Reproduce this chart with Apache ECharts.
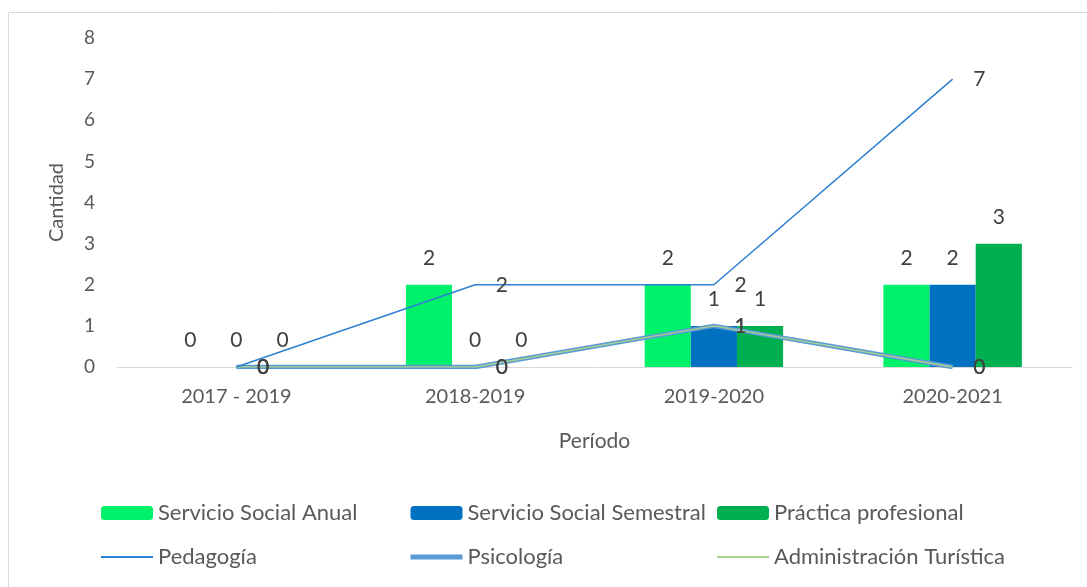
<html>
<head>
  <meta charset="utf-8" />
  <title>Cantidad por período</title>
  <script src="https://cdn.jsdelivr.net/npm/echarts@6/dist/echarts.min.js"></script>
</head>
<body style="margin: 0; background-color: #ffffff">
  <div id="main" style="width: 1087px; height: 587px;"></div>
  <script type="text/javascript">
    var periodos = ['2017 - 2019', '2018-2019', '2019-2020', '2020-2021'];
    var servicioAnual = [0, 2, 2, 2];
    var servicioSemestral = [0, 0, 1, 2];
    var practicaProfesional = [0, 0, 1, 3];
    var pedagogia = [0, 2, 2, 7];
    var psicologia = [0, 0, 1, 0];
    var adminTuristica = [0, 0, 1, 0];
    var yTicks = [0, 1, 2, 3, 4, 5, 6, 7, 8];

    var fontFam = 'Lato, "Open Sans", sans-serif';
    var textGray = '#595959';

    function barLabel() {
        return {show: true, position: 'top', distance: 16, color: '#404040', fontSize: 21, fontFamily: fontFam};
    }
    function lineLabel() {
        return {show: true, position: 'right', distance: 20, color: '#404040', fontSize: 21, fontFamily: fontFam};
    }

    function barSeries(name, data, color) {
        return {name: name, type: 'bar', data: data, barGap: '0%', barCategoryGap: '42%',
                itemStyle: {color: color}, label: barLabel(), z: 2};
    }
    function lineSeries(name, data, color, width, z) {
        // transparent symbols so that the point labels are still drawn
        return {name: name, type: 'line', data: data, symbol: 'circle', symbolSize: 1, showSymbol: true,
                lineStyle: {color: color, width: width}, itemStyle: {color: 'rgba(0,0,0,0)', borderWidth: 0},
                label: lineLabel(), labelLayout: {hideOverlap: false}, z: z};
    }

    function legendCol(left, items) {
        return {orient: 'vertical', left: left, top: 497, itemWidth: 52, itemHeight: 14, itemGap: 22,
                data: items, textStyle: {color: textGray, fontSize: 22, fontFamily: fontFam}};
    }

    var myChart = echarts.init(document.getElementById('main'));
    var option = {
        animation: false,
        backgroundColor: '#ffffff',
        graphic: [{type: 'rect', left: 6, top: 10, shape: {width: 1100, height: 600},
                   style: {fill: 'none', stroke: '#d9d9d9', lineWidth: 1}, silent: true}],
        grid: {left: 117, right: 15, top: 38, bottom: 220},
        legend: [
            legendCol(95, ['Servicio Social Anual', {name: 'Pedagogía', lineStyle: {width: 2}}]),
            legendCol(403, ['Servicio Social Semestral', {name: 'Psicología', lineStyle: {width: 5}}]),
            legendCol(711, ['Práctica profesional', {name: 'Administración Turística', lineStyle: {width: 2}}])
        ],
        xAxis: {
            type: 'category', data: periodos,
            name: 'Período', nameLocation: 'middle', nameGap: 64,
            nameTextStyle: {color: textGray, fontSize: 21, fontFamily: fontFam},
            axisTick: {show: false},
            axisLine: {lineStyle: {color: '#d9d9d9', width: 1}},
            axisLabel: {color: textGray, fontSize: 20, fontFamily: fontFam, margin: 20}
        },
        yAxis: {
            type: 'value', min: yTicks[0], max: yTicks[yTicks.length - 1], interval: 1,
            name: 'Cantidad', nameLocation: 'middle', nameGap: 50,
            nameTextStyle: {color: textGray, fontSize: 20, fontFamily: fontFam},
            splitLine: {show: false},
            axisLine: {show: false}, axisTick: {show: false},
            axisLabel: {color: textGray, fontSize: 19, fontFamily: fontFam, margin: 22}
        },
        series: [
            barSeries('Servicio Social Anual', servicioAnual, '#00F26A'),
            barSeries('Servicio Social Semestral', servicioSemestral, '#0070C0'),
            barSeries('Práctica profesional', practicaProfesional, '#00B050'),
            lineSeries('Pedagogía', pedagogia, '#2E80D2', 1.5, 5),
            lineSeries('Psicología', psicologia, '#5B9BD5', 4.5, 3),
            lineSeries('Administración Turística', adminTuristica, '#A9D18E', 1.5, 4)
        ]
    };
    myChart.setOption(option);
  </script>
</body>
</html>
